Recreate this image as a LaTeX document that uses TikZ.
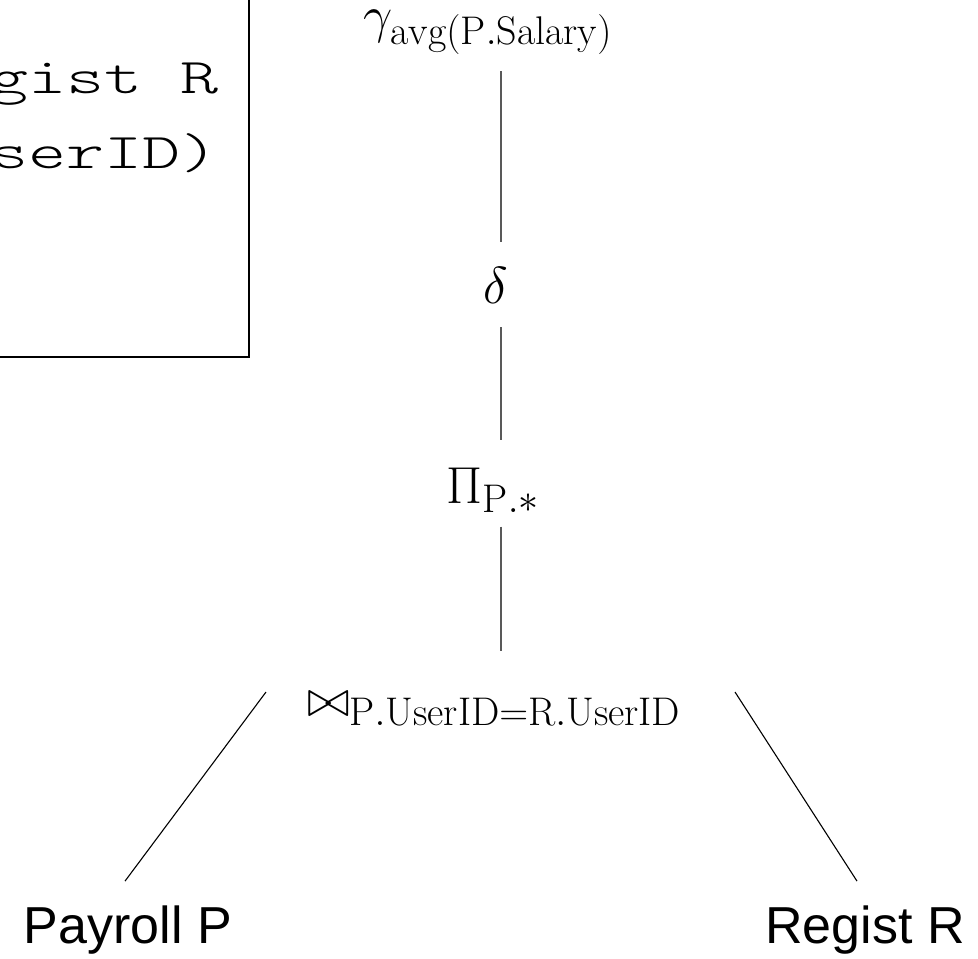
\RequirePackage{fix-cm}
\documentclass[tikz,border=0pt]{standalone}
\usepackage{amsmath}
\usepackage{fontspec}
\setsansfont{Liberation Sans}
\newfontfamily\sqlfont[FakeStretch=1.45]{Latin Modern Mono Light}
\DeclareMathSizes{52}{52}{40}{30}

\begin{document}
\begin{tikzpicture}[x=1pt, y=-1pt,
    op/.style={inner sep=0pt, font=\fontsize{52}{60}\selectfont},
    leaf/.style={inner xsep=0pt, inner ysep=24pt, font=\sffamily\fontsize{52}{60}\selectfont},
    spine/.style={draw=black!65, line width=1.5pt},
    edge/.style={draw=black, line width=1.1pt}]
  \useasboundingbox (0,0) rectangle (978,959);

  \draw[line width=2pt] (-20,-20) rectangle (249,357);
  \node[anchor=base west, inner sep=0pt, align=left, font=\sqlfont\fontsize{50}{75}\selectfont] (sql) at (-10,168) {gist R\\serID)};

  \coordinate (spine) at (501,0);
  \node[op, anchor=base] (agg) at (488,32) {$\gamma_{\mathrm{avg(P.Salary)}}$};
  \node[op, anchor=base] (dist) at (496,303) {$\delta$};
  \node[op, anchor=base] (proj) at (493,503) {$\Pi_{\mathrm{P.}\ast}$};
  \node[op, anchor=base] (join) at (494,716) {${\bowtie}_{\mathrm{P.UserID=R.UserID}}$};
  \node[leaf, anchor=base] (payroll) at (128,943) {Payroll P};
  \node[leaf, anchor=base] (regist) at (865,943) {Regist R};

  \draw[spine, shorten <=17pt, shorten >=25pt] (agg.south -| spine) -- (dist.north -| spine);
  \draw[spine, shorten <=24pt, shorten >=27pt] (dist.south -| spine) -- (proj.north -| spine);
  \draw[spine, shorten <=14pt, shorten >=41pt] (proj.south -| spine) -- (join.north -| spine);

  \coordinate (joinL) at (266,692);
  \coordinate (joinR) at (735,692);
  \draw[edge] (joinL) -- ([xshift=-3pt]payroll.north);
  \draw[edge] (joinR) -- ([xshift=-8pt]regist.north);
\end{tikzpicture}
\end{document}
